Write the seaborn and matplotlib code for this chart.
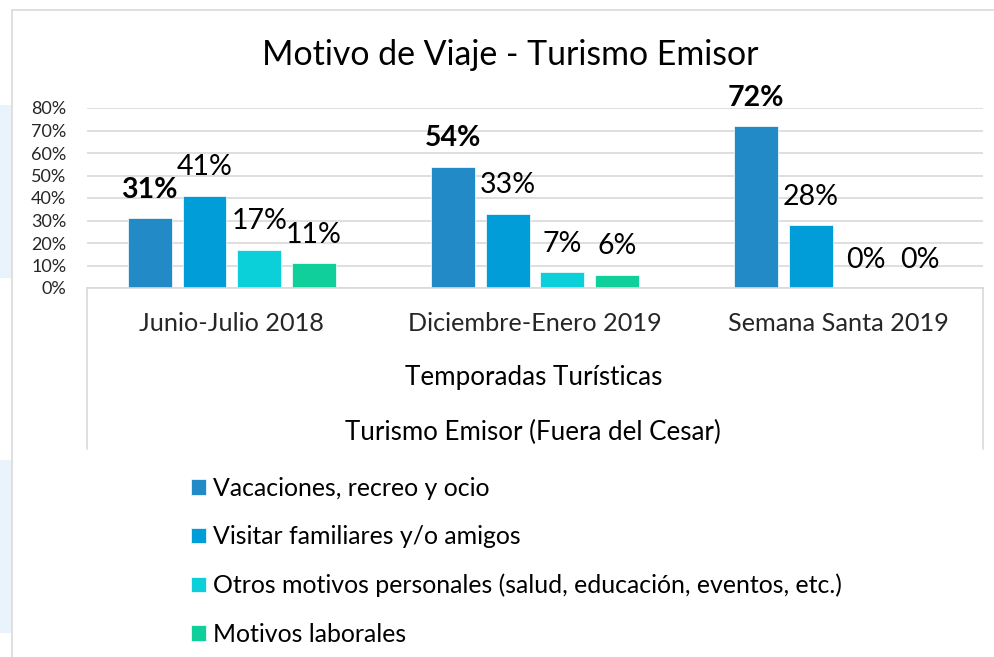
import numpy as np
import pandas as pd
import matplotlib
matplotlib.use("Agg")
import matplotlib.pyplot as plt
from matplotlib.lines import Line2D
from matplotlib.patches import Rectangle
import seaborn as sns

# Datos: motivo de viaje por temporada turística (turismo emisor)
temporadas = ["Junio-Julio 2018", "Diciembre-Enero 2019", "Semana Santa 2019"]
motivos = [
    "Vacaciones, recreo y ocio",
    "Visitar familiares y/o amigos",
    "Otros motivos personales (salud, educación, eventos, etc.)",
    "Motivos laborales",
]
vacaciones = [0.31, 0.54, 0.72]
visitar = [0.41, 0.33, 0.28]
otros = [0.17, 0.07, 0.00]
laborales = [0.11, 0.06, 0.00]
yticks = [0.0, 0.1, 0.2, 0.3, 0.4, 0.5, 0.6, 0.7, 0.8]
ytick_labels = ["0%", "10%", "20%", "30%", "40%", "50%", "60%", "70%", "80%"]

colores = ["#228BC7", "#009DD9", "#0BD0D9", "#10CF9B"]
gris = "#D9D9D9"

df = pd.DataFrame({
    "Temporada": temporadas * 4,
    "Motivo": np.repeat(motivos, len(temporadas)),
    "Valor": vacaciones + visitar + otros + laborales,
})

sns.set_theme(style="white")
plt.rcParams["font.family"] = ["Lato", "DejaVu Sans"]
plt.rcParams["text.color"] = "black"

W, H = 995, 657
fig = plt.figure(figsize=(W / 100, H / 100), dpi=100)
fig.patch.set_facecolor("white")

ax = fig.add_axes([87 / W, 1 - 288 / H, (983 - 87) / W, 180 / H])
sns.barplot(
    data=df, x="Temporada", y="Valor", hue="Motivo",
    order=temporadas, hue_order=motivos, palette=colores,
    saturation=1, width=0.723, gap=0.2, errorbar=None,
    edgecolor="white", linewidth=0.5, ax=ax,
)

ax.set_ylim(0, 0.8)
ax.set_yticks(yticks)
ax.set_yticklabels(ytick_labels, fontsize=13)
ax.tick_params(axis="y", length=0, pad=15)
ax.tick_params(axis="x", length=0, pad=17.5, labelsize=18.2)
ax.yaxis.grid(True, color=gris, linewidth=1.2)
ax.xaxis.grid(False)
ax.set_axisbelow(True)
for s in ["top", "right", "left"]:
    ax.spines[s].set_visible(False)
ax.spines["bottom"].set_color(gris)
ax.spines["bottom"].set_linewidth(1.2)
ax.set_xlabel("")
ax.set_ylabel("")

# Etiquetas de valor sobre cada barra
for i, cont in enumerate(ax.containers):
    vals = [b.get_height() for b in cont]
    ax.bar_label(
        cont, labels=[f"{v * 100:.0f}%" for v in vals], padding=11,
        fontsize=20.5, fontweight="bold" if i == 0 else "normal",
    )

# Marco de la tabla de categorías bajo el eje
bajo = -(449 - 288) / 180
for xa in (0, 1):
    ax.plot([xa, xa], [0, bajo], transform=ax.transAxes, clip_on=False,
            color=gris, linewidth=1.2)

# Títulos de los ejes de categorías
fig.text(534 / W, 1 - 378 / H, "Temporadas Turísticas", ha="center", va="center", fontsize=18.7)
fig.text(533 / W, 1 - 432 / H, "Turismo Emisor (Fuera del Cesar)", ha="center", va="center", fontsize=18.6)

# Título
fig.text(510 / W, 1 - 65 / H, "Motivo de Viaje - Turismo Emisor", ha="center", va="baseline", fontsize=24.4)

# Leyenda
handles, labels = ax.get_legend_handles_labels()
leg_fs = 17.9
ax.legend(
    handles, labels, loc="upper left",
    bbox_to_anchor=(191 / W, 1 - 477 / H), bbox_transform=fig.transFigure,
    frameon=False, fontsize=leg_fs, handlelength=0.6, handleheight=0.6,
    handletextpad=0.3, labelspacing=1.02, borderpad=0, borderaxespad=0,
)

# Borde del gráfico y franjas de la hoja
fig.add_artist(Line2D([12 / W, 12 / W], [0, 1 - 10 / H], color=gris, linewidth=1.2))
fig.add_artist(Line2D([12 / W, 1], [1 - 10 / H, 1 - 10 / H], color=gris, linewidth=1.2))
for y0, y1 in ((105, 278), (460, 633)):
    fig.add_artist(Rectangle((0, 1 - y1 / H), 11 / W, (y1 - y0) / H,
                             transform=fig.transFigure, color="#EAF3FB", linewidth=0))

fig.savefig("out.png", dpi=100)
